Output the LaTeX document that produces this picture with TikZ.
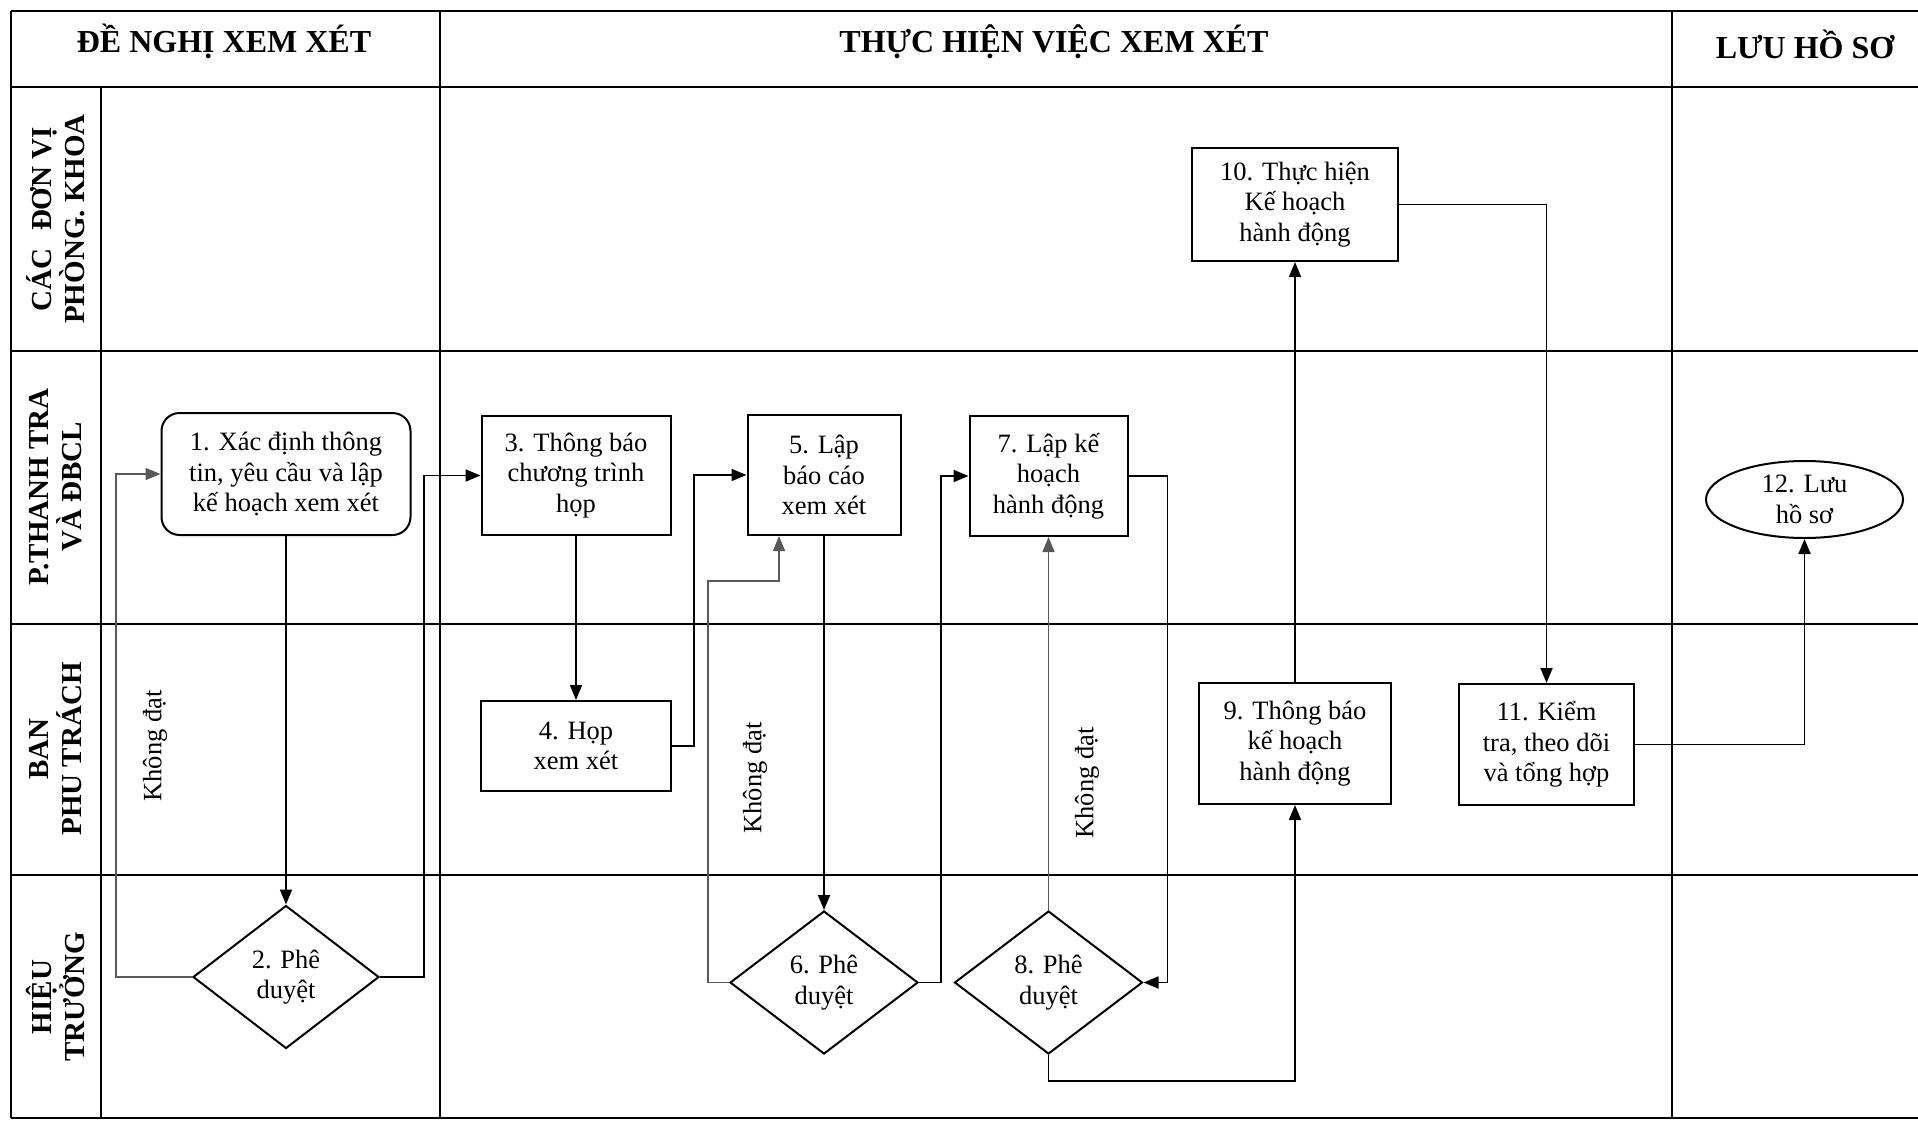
\documentclass[tikz,border=0pt]{standalone}
\usepackage{fontspec}
\setmainfont{Liberation Serif}
\usetikzlibrary{arrows.meta,shapes.geometric}
\begin{document}
\begin{tikzpicture}[x=1pt,y=-1pt,
  grid/.style={line width=2.4pt},
  hdr/.style={font=\fontsize{32}{36}\selectfont\bfseries,inner sep=0pt},
  lane/.style={rotate=90,align=center,font=\fontsize{29}{33}\selectfont\bfseries,inner sep=0pt},
  box/.style={draw,line width=2pt,align=center,inner sep=0pt,font=\fontsize{26.5}{30.6}\selectfont},
  rbox/.style={box,rounded corners=18pt},
  dbox/.style={box,diamond,minimum width=188pt,minimum height=143pt},
  ebox/.style={box,ellipse},
  flow/.style={line width=1.8pt,-{Triangle[length=15pt,width=12pt]}},
  fail/.style={line width=1.5pt,draw=black!65,-{Triangle[length=15pt,width=12pt]}},
  note/.style={rotate=90,font=\fontsize{26.5}{30}\selectfont,inner sep=0pt}
]
\useasboundingbox (0,0) rectangle (1918,1121);

% swimlane grid
\draw[grid] (11,11) -- (1918,11);
\draw[grid] (11,87) -- (1918,87);
\draw[grid] (11,351) -- (1918,351);
\draw[grid] (11,624) -- (1918,624);
\draw[grid] (11,875) -- (1918,875);
\draw[grid] (11,1118) -- (1918,1118);
\draw[grid] (11,11) -- (11,1118);
\draw[grid] (101,87) -- (101,1118);
\draw[grid] (440,11) -- (440,1118);
\draw[grid] (1672,11) -- (1672,1118);

% column headers
\node[hdr] (hA) at (224,41) {ĐỀ NGHỊ XEM XÉT};
\node[hdr] (hB) at (1054,42) {THỰC HIỆN VIỆC XEM XÉT};
\node[hdr] (hC) at (1805,44) {LƯU HỒ SƠ};

% lane titles
\node[lane] (l1) at (56,219) {CÁC\hspace{10pt} ĐƠN VỊ\\PHÒNG. KHOA};
\node[lane] (l2) at (56,487) {P.THANH TRA\\VÀ ĐBCL};
\node[lane] (l3) at (56,749) {BAN\\PHU TRÁCH};
\node[lane] (l4) at (56,997) {HIỆU\\TRƯỞNG};

% process steps
\node[rbox,minimum width=249pt,minimum height=122pt] (n1) at (286,474)
  {1. Xác định thông\\tin, yêu cầu và lập\\kế hoạch xem xét};
\node[dbox,minimum width=186pt] (n2) at (286,977) {2. Phê\\duyệt};
\node[box,minimum width=189pt,minimum height=119pt] (n3) at (576,475.5)
  {3. Thông báo\\chương trình\\họp};
\node[box,minimum width=190pt,minimum height=90pt] (n4) at (576,746)
  {4. Họp\\xem xét};
\node[box,minimum width=153pt,minimum height=120pt] (n5) at (824,475)
  {5. Lập\\báo cáo\\xem xét};
\node[dbox] (n6) at (824,982.5) {6. Phê\\duyệt};
\node[box,minimum width=158pt,minimum height=120pt] (n7) at (1048.5,476)
  {7. Lập kế\\hoạch\\hành động};
\node[dbox] (n8) at (1048.5,982.5) {8. Phê\\duyệt};
\node[box,minimum width=192pt,minimum height=121pt] (n9) at (1295,743.5)
  {9. Thông báo\\kế hoạch\\hành động};
\node[box,minimum width=206pt,minimum height=113pt] (n10) at (1295,204.5)
  {10. Thực hiện\\Kế hoạch\\hành động};
\node[box,minimum width=175pt,minimum height=121pt] (n11) at (1546.5,744.5)
  {11. Kiểm\\tra, theo dõi\\và tổng hợp};
\node[ebox,minimum width=197pt,minimum height=77pt] (n12) at (1804.5,499.5)
  {12. Lưu\\hồ sơ};

% bend points of the return paths
\coordinate (k2) at (116,977);
\coordinate (k6a) at (708,581);
\coordinate (k6b) at (779,581);

% main flow
\draw[flow] (n1.south) -- (n2.north);
\draw[flow] (n2.east) -- ++(44,0) |- (n3.west);
\draw[flow] (n3.south) -- (n4.north);
\draw[flow] (n4.east) -- ++(22,0) |- (n5.west);
\draw[flow] (n5.south) -- (n6.north);
\draw[flow] (n6.east) -- ++(22,0) |- (n7.west);
\draw[flow] (n7.east) -- ++(39,0) |- (n8.east);
\draw[flow] (n8.south) -- ++(0,26) -| (n9.south);
\draw[flow] (n9.north) -- (n10.south);
\draw[flow] (n10.east) -| (n11.north);
\draw[flow] (n11.east) -| (n12.south);

% rejected approvals go back
\draw[fail] (n2.west) -- (k2) |- (n1.west);
\draw[fail] (n6.west) -| (k6a) -- (k6b) -- (k6b |- n5.south);
\draw[fail] (n8.north) -- (n7.south);

\node[note] (f1) at (155,746) {Không đạt};
\node[note] (f2) at (755,778) {Không đạt};
\node[note] (f3) at (1087,783) {Không đạt};
\end{tikzpicture}
\end{document}
